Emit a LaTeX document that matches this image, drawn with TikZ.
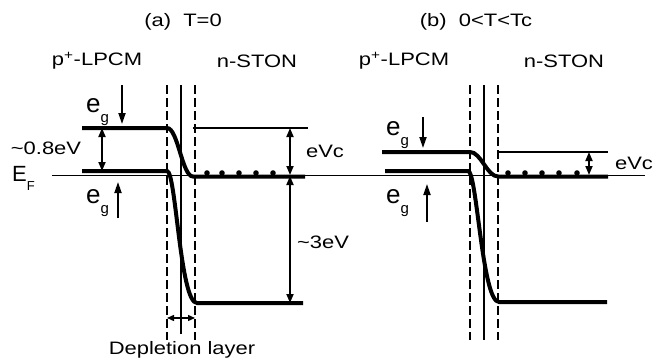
\documentclass[tikz,border=0pt]{standalone}
\usepackage{fontspec}
\setmainfont{Liberation Sans}
\usetikzlibrary{arrows.meta}

\newcommand{\widetxt}[1]{\scalebox{1.22}[1]{#1}}
\newcommand{\eg}{\fontsize{26}{26}\selectfont e\raisebox{-0.42em}{\fontsize{15}{15}\selectfont g}}

\tikzset{
  band/.style={line width=4pt},
  thinline/.style={line width=1.1pt},
  dashline/.style={line width=1.4pt, dash pattern=on 9pt off 4pt},
  dimarrow/.style={line width=1.7pt, {Triangle[length=9pt,width=7pt]}-{Triangle[length=9pt,width=7pt]}},
  egarrow/.style={line width=1.8pt, -{Triangle[length=11pt,width=7pt]}},
  lbl/.style={font=\fontsize{18}{20}\selectfont, inner sep=0pt},
}

\begin{document}
\begin{tikzpicture}[x=1pt,y=-1pt]
	\useasboundingbox (0,0) rectangle (654,364);
	
	% Fermi level
	\coordinate (EFl) at (52,175.5);
	\coordinate (EFr) at (645,175.5);
	\draw[thinline] (EFl) -- (EFr);
	\node[anchor=base west,inner sep=0pt] (EF) at (12,181) {\fontsize{22}{22}\selectfont E\raisebox{-0.42em}{\fontsize{13}{13}\selectfont F}};
	
	% ---------- (a) T=0 ----------
	\node[lbl] (titleA) at (183,22) {\widetxt{(a)~~T=0}};
	\node[lbl] (pA) at (97,61) {\widetxt{p\textsuperscript{+}-LPCM}};
	\node[lbl] (nA) at (257,61) {\widetxt{n-STON}};
	
	% Junction lines
	\draw[dashline] (167,85) -- (167,340);
	\draw[dashline] (195,85) -- (195,340);
	\draw[thinline] (181,85) -- (181,334);
	
	% Bands
	\draw[band] (82,128) -- (167,128) .. controls (178,128) and (182,176.5) .. (193,176.5) -- (305,176.5);
	\draw[band] (82,171) -- (167,171) .. controls (176,171) and (180,303) .. (197,303) -- (303,303);
	\draw[thinline] (193,128) -- (308,128);
	
	% Electrons
	\foreach \x in {207,222,239,256,273}
		\fill (\x,173) circle (2.8);
	
	% Energy gaps
	\coordinate (A1) at (102,128);
	\coordinate (A2) at (102,171);
	\coordinate (A3) at (290,128);
	\coordinate (A4) at (290,175);
	\coordinate (A5) at (290,176);
	\coordinate (A6) at (290,303);
	\draw[dimarrow] (A1) -- (A2);
	\draw[dimarrow] (A3) -- (A4);
	\draw[dimarrow] (A5) -- (A6);
	\node[lbl] (gapA) at (46,148) {\widetxt{\char`\~0.8eV}};
	\node[lbl] (eVcA) at (325,151) {\widetxt{eVc}};
	\node[lbl] (bigA) at (323,242) {\widetxt{\char`\~3eV}};
	
	% Spin arrows
	\node[anchor=base west,inner sep=0pt] (egA1) at (86,112) {\eg};
	\node[anchor=base west,inner sep=0pt] (egA2) at (86,203) {\eg};
	\coordinate (S1) at (122,85);
	\coordinate (S2) at (122,124);
	\coordinate (S3) at (118,218);
	\coordinate (S4) at (118,182);
	\draw[egarrow] (S1) -- (S2);
	\draw[egarrow] (S3) -- (S4);
	
	% Depletion layer
	\coordinate (D1) at (167,318);
	\coordinate (D2) at (195,318);
	\draw[line width=1.4pt,{Triangle[length=7pt,width=6pt]}-{Triangle[length=7pt,width=6pt]}] (D1) -- (D2);
	\node[lbl] (depl) at (182,350) {\widetxt{Depletion layer}};
	
	% ---------- (b) 0<T<Tc ----------
	\node[lbl] (titleB) at (476,22) {\widetxt{(b)~~0<T<Tc}};
	\node[lbl] (pB) at (404,61) {\widetxt{p\textsuperscript{+}-LPCM}};
	\node[lbl] (nB) at (564,61) {\widetxt{n-STON}};
	
	% Junction lines
	\draw[dashline] (470,85) -- (470,340);
	\draw[dashline] (498,85) -- (498,340);
	\draw[thinline] (484,85) -- (484,340);
	
	% Bands
	\draw[band] (382,152) -- (470,152) .. controls (481,152) and (487,176.5) .. (498,176.5) -- (608,176.5);
	\draw[band] (385,171) -- (468,171) .. controls (477,171) and (482,302) .. (499,302) -- (607,302);
	\draw[thinline] (498,152) -- (608,152);
	
	% Electrons
	\foreach \x in {508,525,542,559,577}
		\fill (\x,173) circle (2.8);
	
	% Energy gap
	\coordinate (B1) at (589,152);
	\coordinate (B2) at (589,175);
	\draw[dimarrow] (B1) -- (B2);
	\node[lbl] (eVcB) at (634,163) {\widetxt{eVc}};
	
	% Spin arrows
	\node[anchor=base west,inner sep=0pt] (egB1) at (386,135) {\eg};
	\node[anchor=base west,inner sep=0pt] (egB2) at (386,203) {\eg};
	\coordinate (T1) at (423,117);
	\coordinate (T2) at (423,148);
	\coordinate (T3) at (427,222);
	\coordinate (T4) at (427,184);
	\draw[egarrow] (T1) -- (T2);
	\draw[egarrow] (T3) -- (T4);
\end{tikzpicture}
\end{document}
